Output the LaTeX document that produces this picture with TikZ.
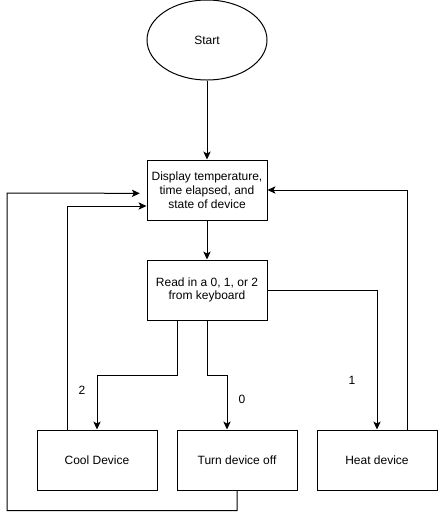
\documentclass[tikz,border=0pt]{standalone}
\usepackage{fontspec}
\setmainfont{Liberation Sans}
\usepackage{tikz}
\usetikzlibrary{arrows,arrows.meta,shapes.geometric}
\tikzset{
  flownode/.style = {align=center, inner sep=0pt, text centered,
    font=\fontsize{9}{10.3}\selectfont, draw=black, line width=0.75pt},
  startnode/.style = {flownode, ellipse, minimum width=90pt, minimum height=60pt},% start
  stepbox/.style = {flownode, rectangle, minimum width=90pt, minimum height=45pt},% action
  choice/.style = {font=\fontsize{9}{10.3}\selectfont, inner sep=0pt},% key pressed
  flow/.style = {draw=black, line width=0.75pt, -{Stealth[length=6pt, width=5.5pt, inset=1.5pt]}}
}

\begin{document}
\begin{tikzpicture}[x=0.75pt, y=-0.75pt]
	\useasboundingbox (0,0) rectangle (438,519);
	\node [startnode] (start) at (207,40) {Start};
	\node [stepbox] (display) at (207,190) {Display temperature,\\ time elapsed, and\\ state of device};
	\node [stepbox] (read) at (207,290) {Read in a 0, 1, or 2\\ from keyboard};
	\node [stepbox] (cool) at (97,460) {Cool Device};
	\node [stepbox] (turn) at (237,460) {Turn device off};
	\node [stepbox] (heat) at (377,460) {Heat device};
	\coordinate (loop) at (7,193);
	% choices
	\node [choice] (two) at (82,390) {2};
	\node [choice] (zero) at (242,399) {0};
	\node [choice] (one) at (352,380) {1};
	% forward
	\draw [flow] (start) -- (display);
	\draw [flow] (display) -- (read);
	\draw [flow] ([xshift=-22.5pt]read.south) -- ++(0,55) -| (cool.north);
	\draw [flow] (read.south) -- ++(0,55) -| ([xshift=-7.5pt]turn.north);
	\draw [flow] (read.east) -| (heat.north);
	% back to display
	\draw [flow] ([xshift=22.5pt]heat.north) |- (display.east);
	\draw [flow] ([xshift=-22.5pt]cool.north) |- ([yshift=-12pt]display.west);
	\draw [flow] (turn.south) -- ++(0,20) -| (loop) -- ([xshift=-5pt,yshift=-2.5pt]display.west);
\end{tikzpicture}
\end{document}
